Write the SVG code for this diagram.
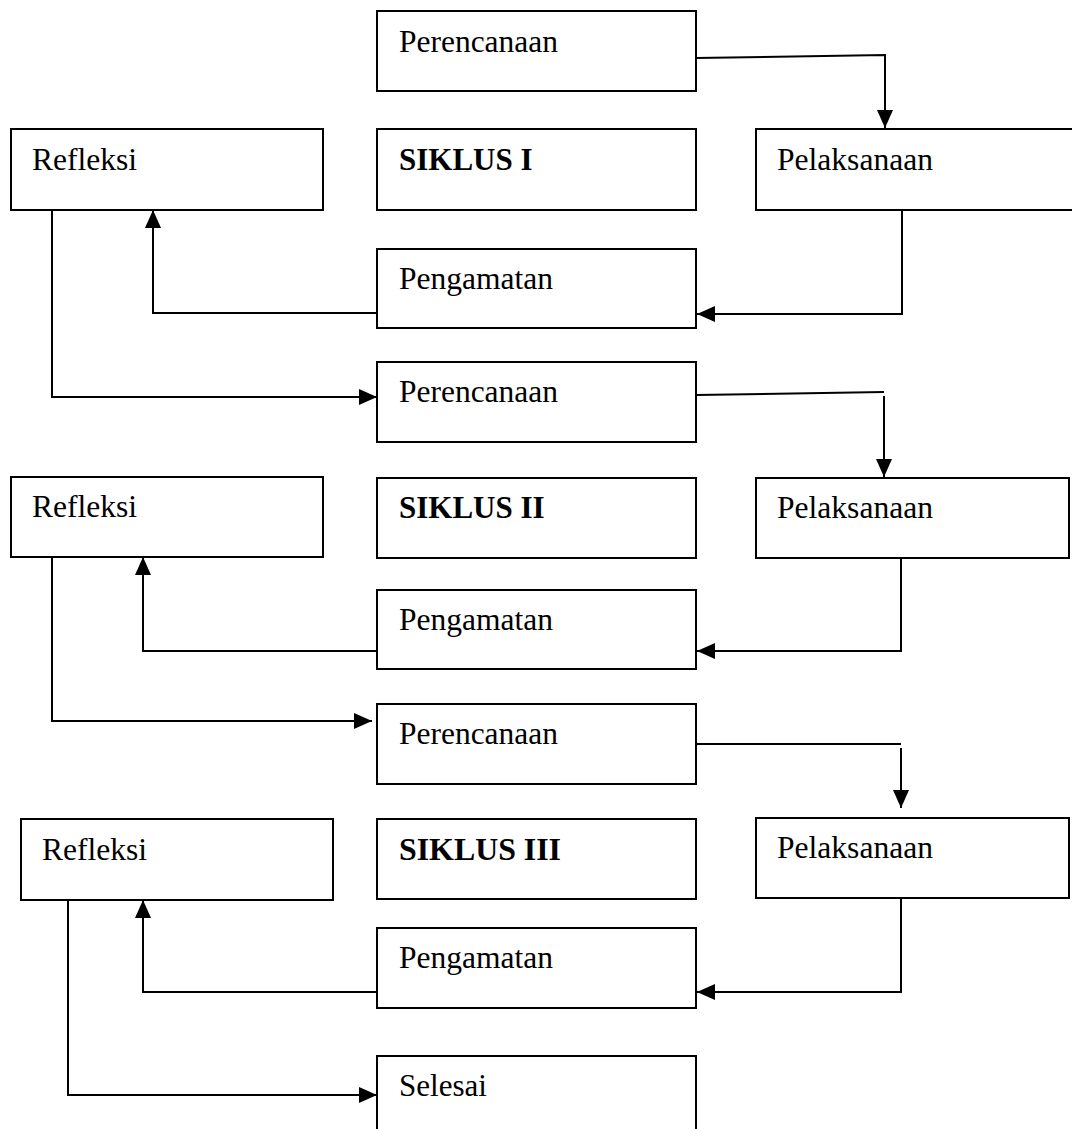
<svg xmlns="http://www.w3.org/2000/svg" width="1072" height="1129" viewBox="0 0 1072 1129">
<defs>
<style>
.box{fill:#fff;stroke:#000;stroke-width:2}
.lbl{font-family:"Liberation Serif","Times New Roman",serif;font-size:31px;fill:#000}
.bold{font-weight:bold}
.c{fill:none;stroke:#000;stroke-width:2}
.ca{fill:none;stroke:#000;stroke-width:2;marker-end:url(#arr)}
</style>
<marker id="arr" markerUnits="userSpaceOnUse" markerWidth="18" markerHeight="16" refX="18" refY="8" orient="auto" overflow="visible">
<path d="M0,0 L18,8 L0,16 z" fill="#000"/>
</marker>
</defs>
<rect width="1072" height="1129" fill="#fff"/>

<g id="connectors">
<polyline class="ca" points="696,58 885,55 885,128"/>
<polyline class="ca" points="902,210 902,314 697,314"/>
<polyline class="ca" points="377,313 153,313 153,210"/>
<polyline class="ca" points="52,210 52,397 377,397"/>
<polyline class="c" points="696,395 884,392"/>
<line class="ca" x1="884" y1="396" x2="884" y2="477"/>
<polyline class="ca" points="901,558 901,651 697,651"/>
<polyline class="ca" points="377,651 143,651 143,557"/>
<polyline class="ca" points="52,557 52,721 372,721"/>
<line class="c" x1="696" y1="744" x2="901" y2="744"/>
<line class="ca" x1="901" y1="748" x2="901" y2="808"/>
<polyline class="ca" points="901,898 901,992 697,992"/>
<polyline class="ca" points="377,992 143,992 143,900"/>
<polyline class="ca" points="68,900 68,1095 377,1095"/>
</g>

<g id="perencanaan1"><rect class="box" x="377" y="11" width="319" height="80"/><text class="lbl" x="399" y="52" textLength="159" lengthAdjust="spacingAndGlyphs">Perencanaan</text></g>
<g id="refleksi1"><rect class="box" x="11" y="129" width="312" height="81"/><text class="lbl" x="32" y="170" textLength="105" lengthAdjust="spacingAndGlyphs">Refleksi</text></g>
<g id="siklus1"><rect class="box" x="377" y="129" width="319" height="81"/><text class="lbl bold" x="399" y="170">SIKLUS I</text></g>
<g id="pelaksanaan1"><rect class="box" x="756" y="129" width="320" height="81"/><text class="lbl" x="777" y="170" textLength="156" lengthAdjust="spacingAndGlyphs">Pelaksanaan</text></g>
<g id="pengamatan1"><rect class="box" x="377" y="249" width="319" height="79"/><text class="lbl" x="399" y="289" textLength="154" lengthAdjust="spacingAndGlyphs">Pengamatan</text></g>

<g id="perencanaan2"><rect class="box" x="377" y="362" width="319" height="80"/><text class="lbl" x="399" y="402" textLength="159" lengthAdjust="spacingAndGlyphs">Perencanaan</text></g>
<g id="refleksi2"><rect class="box" x="11" y="477" width="312" height="80"/><text class="lbl" x="32" y="517" textLength="105" lengthAdjust="spacingAndGlyphs">Refleksi</text></g>
<g id="siklus2"><rect class="box" x="377" y="478" width="319" height="80"/><text class="lbl bold" x="399" y="518">SIKLUS II</text></g>
<g id="pelaksanaan2"><rect class="box" x="756" y="478" width="313" height="80"/><text class="lbl" x="777" y="518" textLength="156" lengthAdjust="spacingAndGlyphs">Pelaksanaan</text></g>
<g id="pengamatan2"><rect class="box" x="377" y="590" width="319" height="79"/><text class="lbl" x="399" y="630" textLength="154" lengthAdjust="spacingAndGlyphs">Pengamatan</text></g>

<g id="perencanaan3"><rect class="box" x="377" y="704" width="319" height="80"/><text class="lbl" x="399" y="744" textLength="159" lengthAdjust="spacingAndGlyphs">Perencanaan</text></g>
<g id="refleksi3"><rect class="box" x="21" y="819" width="312" height="81"/><text class="lbl" x="42" y="860" textLength="105" lengthAdjust="spacingAndGlyphs">Refleksi</text></g>
<g id="siklus3"><rect class="box" x="377" y="819" width="319" height="80"/><text class="lbl bold" x="399" y="860" textLength="162" lengthAdjust="spacingAndGlyphs">SIKLUS III</text></g>
<g id="pelaksanaan3"><rect class="box" x="756" y="818" width="313" height="80"/><text class="lbl" x="777" y="858" textLength="156" lengthAdjust="spacingAndGlyphs">Pelaksanaan</text></g>
<g id="pengamatan3"><rect class="box" x="377" y="928" width="319" height="80"/><text class="lbl" x="399" y="968" textLength="154" lengthAdjust="spacingAndGlyphs">Pengamatan</text></g>

<g id="selesai"><rect class="box" x="377" y="1056" width="319" height="90"/><text class="lbl" x="399" y="1096" textLength="88" lengthAdjust="spacingAndGlyphs">Selesai</text></g>
</svg>
